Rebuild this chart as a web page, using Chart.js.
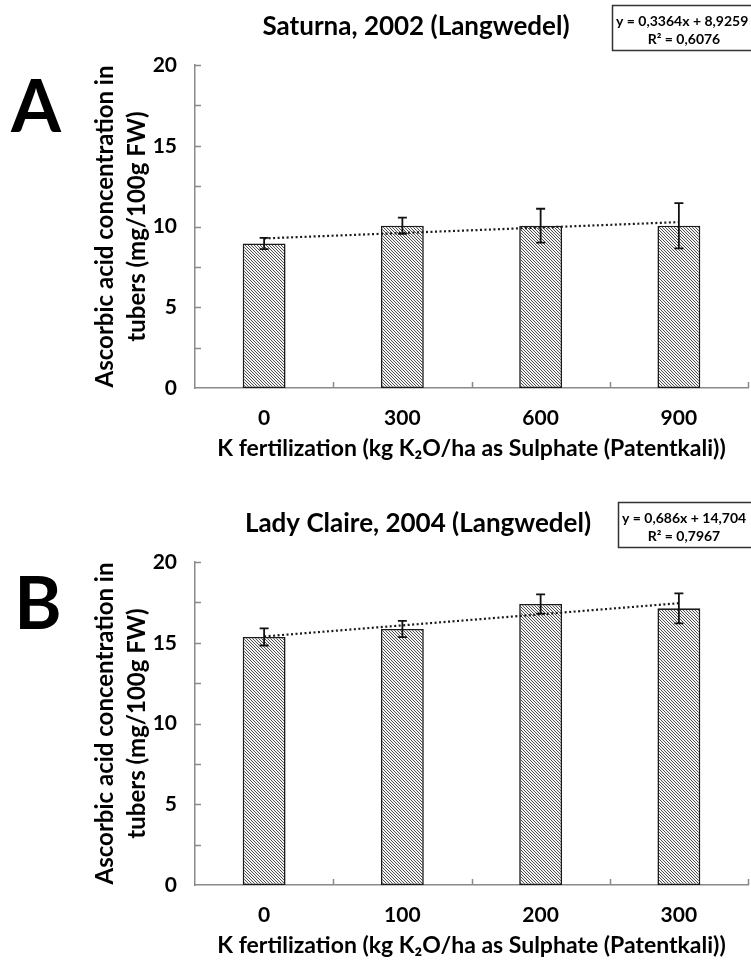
<!DOCTYPE html>
<html>
<head>
<meta charset="utf-8">
<script src="https://cdn.jsdelivr.net/npm/chart.js@4/dist/chart.umd.min.js"></script>
<style>
  html, body { margin: 0; padding: 0; background: #fff; }
  #wrap { position: relative; width: 751px; height: 962px; overflow: hidden; }
  .panel { position: absolute; left: 0; width: 751px; height: 465px; }
</style>
</head>
<body>
<div id="wrap">
  <div class="panel" style="top:0"><canvas id="chartA" width="751" height="465"></canvas></div>
  <div class="panel" style="top:497px"><canvas id="chartB" width="751" height="465"></canvas></div>
</div>
<script>
// ---- Panel A: Saturna, 2002 (Langwedel) ----
const categoriesA = ['0', '300', '600', '900'];
const meansA = [8.95, 10.05, 10.05, 10.05];
const errorsA = [0.35, 0.5, 1.05, 1.4];
const trendA = [0.3364, 8.9259];          // slope, intercept
const equationA = ['y = 0,3364x + 8,9259', 'R² = 0,6076'];

// ---- Panel B: Lady Claire, 2004 (Langwedel) ----
const categoriesB = ['0', '100', '200', '300'];
const meansB = [15.36, 15.85, 17.40, 17.13];
const errorsB = [0.53, 0.5, 0.6, 0.93];
const trendB = [0.686, 14.704];
const equationB = ['y = 0,686x + 14,704', 'R² = 0,7967'];

const yTickValues = [0, 5, 10, 15, 20];
const xTitle = 'K fertilization (kg K₂O/ha as Sulphate (Patentkali))';
const yTitle = ['Ascorbic acid concentration in', 'tubers (mg/100g FW)'];

const FONT = 'Lato, "Open Sans", sans-serif';
const AXIS_GREY = '#8a8a8a';

// diagonal hatch fill for the bars
function hatchPattern(ctx) {
  const n = 3;
  const tile = document.createElement('canvas');
  tile.width = n; tile.height = n;
  const t = tile.getContext('2d');
  t.fillStyle = '#f4f4f4';
  t.fillRect(0, 0, n, n);
  t.strokeStyle = '#505050';
  t.lineWidth = 1;
  t.beginPath();
  t.moveTo(-1, -1); t.lineTo(n + 1, n + 1);
  t.moveTo(-1, n - 1); t.lineTo(1, n + 1);
  t.moveTo(n - 1, -1); t.lineTo(n + 1, 1);
  t.stroke();
  return ctx.createPattern(tile, 'repeat');
}

// error bars, inward tick marks, panel letter, title and equation box
const decorations = {
  id: 'decorations',
  afterDatasetsDraw(chart, args, opts) {
    const ctx = chart.ctx;
    const xs = chart.scales.x, ys = chart.scales.y;
    const area = chart.chartArea;

    // inward ticks on y axis every 2.5
    ctx.save();
    ctx.strokeStyle = AXIS_GREY;
    ctx.lineWidth = 1.5;
    ctx.beginPath();
    for (let v = 2.5; v <= 20; v += 2.5) {
      const y = Math.round(ys.getPixelForValue(v)) + 0.5;
      ctx.moveTo(area.left, y);
      ctx.lineTo(area.left + 6, y);
    }
    // inward ticks on x axis at category boundaries
    for (let i = 0; i < xs.ticks.length; i++) {
      const x = Math.round(xs.getPixelForValue(i + 0.5)) + 0.5;
      ctx.moveTo(x, area.bottom);
      ctx.lineTo(x, area.bottom - 6);
    }
    ctx.stroke();

    // error bars
    ctx.strokeStyle = '#111';
    ctx.lineWidth = 1.8;
    opts.means.forEach((m, i) => {
      const x = xs.getPixelForValue(i);
      const yTop = ys.getPixelForValue(m + opts.errors[i]);
      const yBot = ys.getPixelForValue(m - opts.errors[i]);
      ctx.beginPath();
      ctx.moveTo(x, yTop); ctx.lineTo(x, yBot);
      ctx.moveTo(x - 4.5, yTop); ctx.lineTo(x + 4.5, yTop);
      ctx.moveTo(x - 4.5, yBot); ctx.lineTo(x + 4.5, yBot);
      ctx.stroke();
    });
    ctx.restore();
  },
  afterDraw(chart, args, opts) {
    const ctx = chart.ctx;
    ctx.save();
    ctx.fillStyle = '#000';
    // panel letter
    ctx.font = 'bold 72px ' + FONT;
    ctx.textAlign = 'center';
    ctx.textBaseline = 'alphabetic';
    ctx.fillText(opts.letter, opts.letterX, 132);
    // title
    ctx.font = 'bold 26px ' + FONT;
    ctx.textBaseline = 'middle';
    ctx.fillText(opts.title, opts.titleX, 27);
    // regression equation box
    ctx.strokeStyle = '#333';
    ctx.lineWidth = 1.5;
    ctx.strokeRect(opts.boxX + 0.5, 5.5, 150, 45);
    ctx.font = 'bold 14px ' + FONT;
    ctx.textAlign = 'left';
    ctx.fillText(opts.equation[0], opts.boxX + 4, 21);
    ctx.textAlign = 'center';
    ctx.fillText(opts.equation[1], 684, 39);
    ctx.restore();
  }
};

function buildChart(id, categories, means, errors, trend, equation, letter, title, letterX, titleX, boxX) {
  const canvas = document.getElementById(id);
  const ctx = canvas.getContext('2d');
  const trendValues = categories.map((_, i) => trend[0] * (i + 1) + trend[1]);
  return new Chart(ctx, {
    type: 'bar',
    data: {
      labels: categories,
      datasets: [
        {
          type: 'line',
          data: trendValues,
          borderColor: '#1a1a1a',
          borderWidth: 2.2,
          borderDash: [2, 2.5],
          pointRadius: 0,
          fill: false,
          order: 0
        },
        {
          type: 'bar',
          data: means,
          backgroundColor: hatchPattern(ctx),
          borderColor: '#1a1a1a',
          borderWidth: 1.6,
          borderSkipped: false,
          barPercentage: 0.31,
          categoryPercentage: 1,
          order: 1
        }
      ]
    },
    options: {
      responsive: false,
      devicePixelRatio: 1,
      animation: false,
      events: [],
      layout: { padding: { top: 65, right: 3, bottom: 0, left: 0 } },
      plugins: {
        legend: { display: false },
        tooltip: { enabled: false },
        title: { display: false },
        decorations: { means, errors, equation, letter, title, letterX, titleX, boxX }
      },
      scales: {
        x: {
          offset: true,
          grid: { display: false, drawTicks: false },
          border: { display: true, color: AXIS_GREY, width: 1.5 },
          ticks: { color: '#000', padding: 18, font: { family: FONT, weight: 'bold', size: 21 } },
          title: {
            display: true, text: xTitle, color: '#000',
            font: { family: FONT, weight: 'bold', size: 23 },
            padding: { top: 0, bottom: 3 }
          },
          afterFit(s) { s.height = 77; }
        },
        y: {
          min: 0, max: 20,
          grid: { display: false, drawTicks: false },
          border: { display: true, color: AXIS_GREY, width: 1.5 },
          ticks: {
            stepSize: 2.5, autoSkip: false, color: '#000', padding: 18,
            font: { family: FONT, weight: 'bold', size: 21 },
            callback: v => yTickValues.includes(v) ? String(v) : ''
          },
          title: {
            display: true, text: yTitle, color: '#000',
            font: { family: FONT, weight: 'bold', size: 24, lineHeight: 1.3 },
            padding: { top: 90, bottom: 0 }
          },
          afterFit(s) { s.width = 195; }
        }
      }
    },
    plugins: [decorations]
  });
}

Promise.all([
  document.fonts.load('bold 20px Lato'),
  document.fonts.load('bold 72px Lato')
]).catch(() => {}).then(() => {
  buildChart('chartA', categoriesA, meansA, errorsA, trendA, equationA,
             'A', 'Saturna, 2002 (Langwedel)', 36, 416, 612);
  buildChart('chartB', categoriesB, meansB, errorsB, trendB, equationB,
             'B', 'Lady Claire, 2004 (Langwedel)', 38, 418, 618);
});
</script>
</body>
</html>
